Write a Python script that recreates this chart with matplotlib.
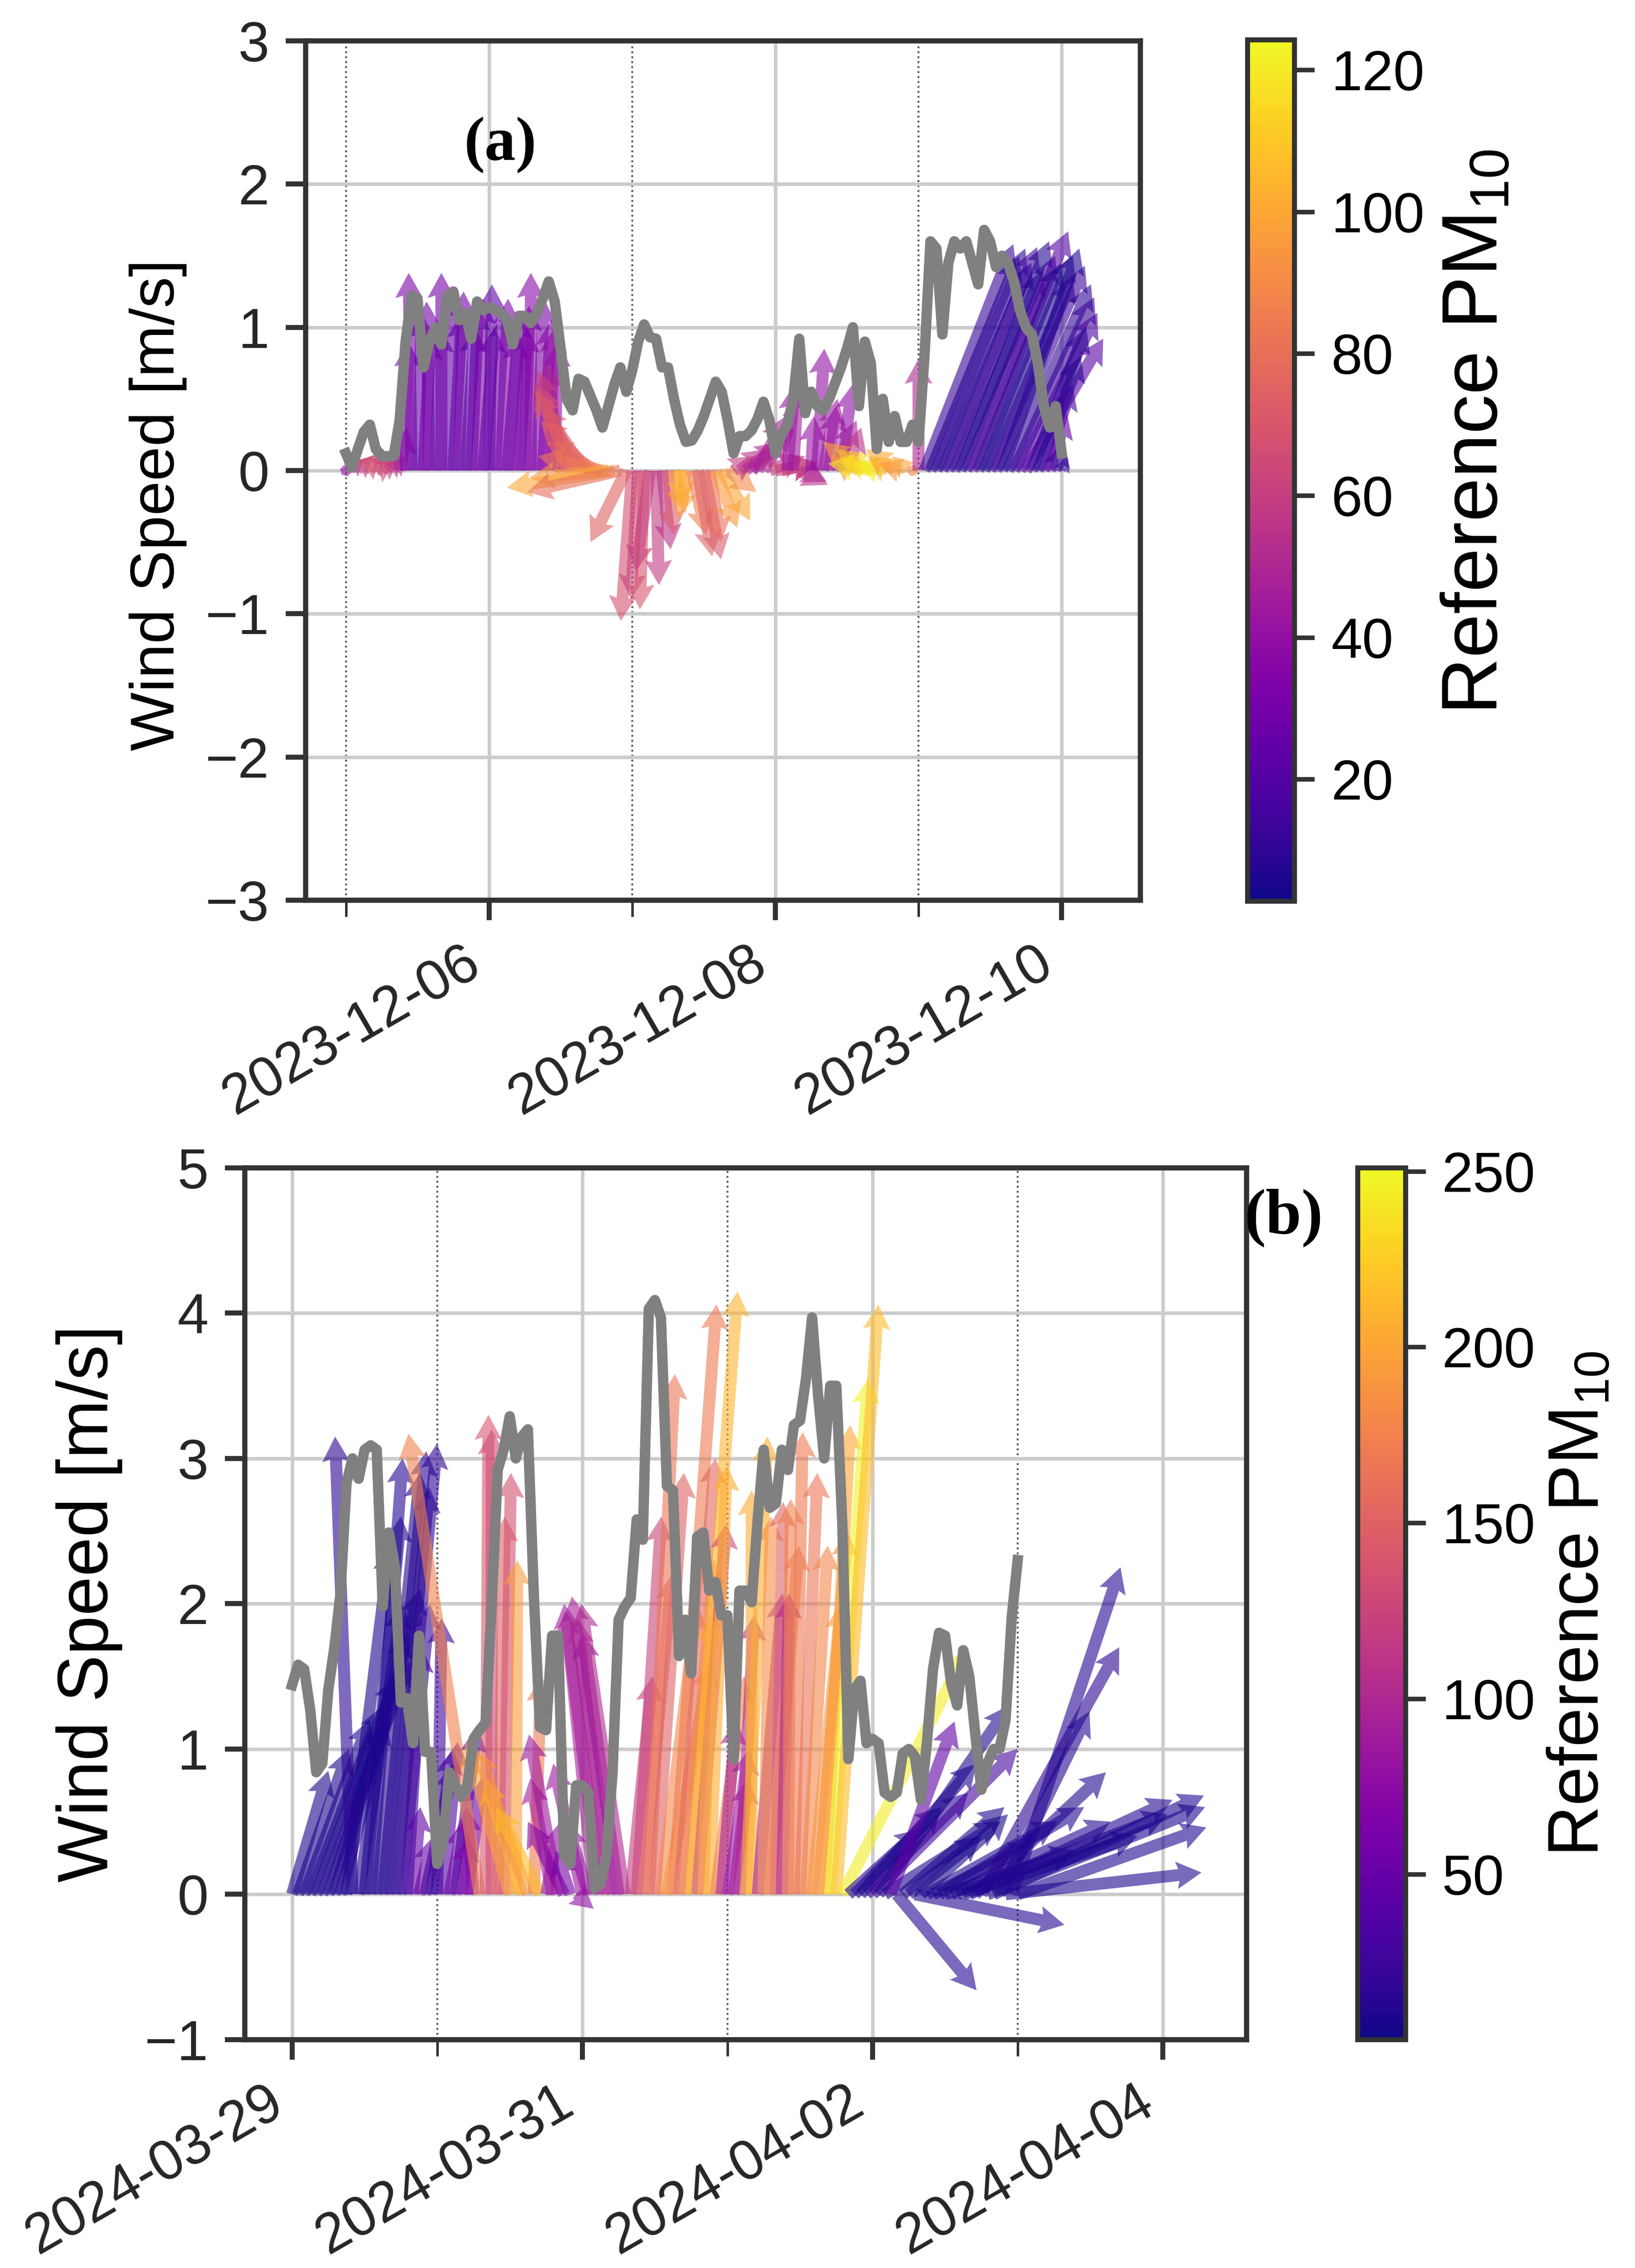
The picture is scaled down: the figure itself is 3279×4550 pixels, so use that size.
import numpy as np
import pandas as pd
import matplotlib
matplotlib.use("Agg")
import matplotlib.pyplot as plt
import matplotlib.dates as mdates
from matplotlib.colors import Normalize
from matplotlib.cm import ScalarMappable

plt.rcParams["font.family"] = ["Liberation Sans", "DejaVu Sans"]
plt.rcParams["mathtext.default"] = "regular"
plt.rcParams["text.color"] = "#262626"

# ---- panel (a): 2023-12-05 00:00, hourly ----
start_a = "2023-12-05 00:00"
speed_a = [0.12, 0.02, 0.15, 0.27, 0.32, 0.15, 0.10, 0.10, 0.10, 0.35,
           0.90, 1.22, 1.20, 0.72, 0.90, 1.00, 0.88, 1.22, 1.25, 1.05,
           1.10, 0.92, 1.18, 1.12, 1.14, 1.12, 1.10, 1.05, 0.88, 1.08,
           1.08, 1.03, 1.10, 1.20, 1.32, 1.18, 0.85, 0.50, 0.42, 0.64,
           0.62, 0.52, 0.42, 0.30, 0.45, 0.60, 0.72, 0.55, 0.70, 0.90,
           1.02, 0.93, 0.92, 0.72, 0.72, 0.50, 0.32, 0.20, 0.21, 0.28,
           0.38, 0.50, 0.62, 0.55, 0.35, 0.12, 0.24, 0.24, 0.28, 0.36,
           0.48, 0.35, 0.12, 0.25, 0.32, 0.50, 0.92, 0.40, 0.55, 0.45,
           0.42, 0.50, 0.61, 0.72, 0.85, 1.00, 0.45, 0.90, 0.75, 0.15,
           0.50, 0.20, 0.38, 0.20, 0.20, 0.32, 0.20, 0.80, 1.60, 1.55,
           0.95, 1.45, 1.60, 1.55, 1.60, 1.45, 1.30, 1.68, 1.60, 1.42,
           1.50, 1.45, 1.32, 1.12, 1.00, 0.95, 0.75, 0.45, 0.30, 0.45,
           0.12]
u_a = [0.05, 0.08, 0.10, 0.12, 0.10, 0.15, 0.12, 0.10, 0.08, 0.05,
       0.02, -0.02, 0.03, 0.05, -0.02, 0.04, 0.00, 0.05, 0.06, 0.03,
       0.07, 0.05, 0.04, 0.08, 0.02, 0.06, 0.05, 0.08, 0.04, 0.06,
       0.03, 0.00, 0.05, 0.06, 0.04, 0.02, -0.10, -0.20, -0.25, -0.30,
       -0.30, -0.35, -0.35, -0.45, -0.55, -0.75, -0.65, -0.25, -0.08, -0.05,
       -0.03, -0.10, 0.02, 0.06, 0.04, 0.08, 0.02, -0.05, 0.10, 0.10,
       0.12, 0.08, 0.15, 0.20, 0.20, 0.15, 0.20, 0.25, 0.30, 0.20,
       0.15, 0.25, 0.30, 0.25, 0.05, 0.03, 0.20, 0.15, 0.02, 0.05,
       0.10, 0.05, 0.15, 0.08, 0.10, -0.15, -0.25, -0.20, -0.30, -0.25,
       -0.20, -0.15, -0.20, -0.15, -0.10, -0.05, 0.00, 0.62, 0.62, 0.62,
       0.62, 0.62, 0.62, 0.62, 0.62, 0.67, 0.58, 0.62, 0.58, 0.62,
       0.54, 0.58, 0.56, 0.54, 0.54, 0.38, 0.30, 0.20, 0.12, 0.06,
       0.04]
v_a = [0.05, 0.08, 0.10, 0.12, 0.15, 0.08, 0.10, 0.12, 0.10, 0.30,
       0.90, 1.38, 1.10, 0.95, 1.18, 1.00, 1.38, 1.20, 1.10, 1.25,
       1.00, 1.15, 1.20, 1.00, 1.30, 1.10, 1.20, 0.95, 1.10, 1.00,
       1.15, 1.38, 1.20, 1.05, 1.00, 0.90, 0.75, 0.70, 0.60, 0.55,
       0.45, 0.35, 0.20, 0.10, -0.05, -0.12, -0.15, -0.50, -1.05, -0.90,
       -0.97, -0.70, -0.80, -0.55, -0.45, -0.30, -0.25, -0.33, -0.45, -0.60,
       -0.62, -0.50, -0.40, -0.35, -0.15, 0.10, 0.15, 0.20, 0.30, 0.38,
       0.25, 0.10, 0.05, 0.05, 0.60, 0.55, -0.10, -0.08, 0.38, 0.85,
       0.50, 0.45, 0.35, 0.60, 0.30, 0.10, 0.20, 0.15, 0.05, 0.08,
       0.05, 0.10, 0.15, 0.05, 0.10, 0.05, 0.78, 1.58, 1.50, 1.55,
       1.45, 1.56, 1.40, 1.60, 1.50, 1.67, 1.45, 1.50, 1.35, 1.43,
       1.55, 1.30, 1.21, 1.10, 0.92, 1.00, 0.80, 0.60, 0.40, 0.20,
       0.10]
pm_a = [40, 50, 60, 65, 68, 66, 62, 60, 55, 45,
        30, 32, 25, 28, 30, 22, 30, 26, 24, 28,
        22, 25, 30, 27, 24, 26, 32, 28, 30, 34,
        28, 36, 32, 35, 38, 40, 50, 62, 68, 72,
        70, 75, 80, 85, 95, 100, 80, 75, 68, 62,
        70, 60, 58, 55, 72, 95, 105, 100, 85, 75,
        72, 80, 95, 100, 90, 60, 55, 50, 45, 48,
        52, 58, 62, 60, 42, 45, 55, 50, 42, 40,
        45, 40, 48, 38, 55, 90, 100, 110, 120, 115,
        122, 105, 100, 95, 98, 90, 50, 12, 8, 10,
        6, 15, 9, 7, 11, 20, 8, 6, 10, 14,
        7, 9, 12, 18, 22, 10, 8, 15, 25, 12,
        10]
ticks_a = ["2023-12-06", "2023-12-08", "2023-12-10"]
minor_a = ["2023-12-05", "2023-12-07", "2023-12-09"]
cticks_a = [20, 40, 60, 80, 100, 120]

# ---- panel (b): 2024-03-29 00:00, hourly ----
start_b = "2024-03-29 00:00"
speed_b = [1.44, 1.58, 1.55, 1.27, 0.84, 0.90, 1.41, 1.70, 2.07, 2.83,
           3.00, 2.86, 3.06, 3.09, 3.06, 1.98, 2.49, 2.26, 1.32, 1.35,
           1.04, 1.78, 0.98, 0.98, 0.21, 0.36, 0.84, 0.75, 0.67, 0.75,
           1.07, 1.13, 1.18, 1.98, 2.92, 3.06, 3.29, 3.00, 3.15, 3.20,
           2.04, 1.15, 1.13, 1.78, 1.78, 0.27, 0.21, 0.75, 0.75, 0.70,
           0.04, 0.07, 0.27, 0.84, 1.89, 1.98, 2.04, 2.58, 2.44, 4.03,
           4.09, 3.97, 2.81, 2.78, 1.64, 1.89, 1.52, 2.46, 2.49, 2.09,
           2.15, 1.92, 1.92, 0.93, 2.09, 2.09, 2.01, 2.58, 3.06, 2.66,
           2.69, 3.06, 2.92, 3.23, 3.26, 3.55, 3.97, 3.43, 3.00, 3.50,
           3.50, 2.55, 0.93, 1.41, 1.47, 1.04, 1.07, 1.04, 0.70, 0.67,
           0.70, 0.97, 1.00, 0.95, 0.65, 1.05, 1.55, 1.80, 1.78, 1.45,
           1.30, 1.68, 1.50, 1.10, 0.72, 0.90, 1.00, 1.00, 1.20, 1.90,
           2.30]
u_b = [0.25, 0.35, 0.45, 0.50, 0.55, 0.60, 0.40, 0.50, 0.55, 0.30,
       -0.12, 0.30, 0.25, 0.22, 0.30, 0.30, 0.28, 0.29, 0.20, 0.10,
       0.05, 0.10, 0.20, 0.15, 0.03, 0.10, 0.10, 0.15, 0.05, 0.10,
       -0.05, -0.49, 0.02, 0.00, 0.05, 0.05, -0.30, 0.01, -0.25, -0.35,
       0.05, -0.30, 0.10, -0.15, -0.20, -0.25, -0.10, 0.12, -0.20, -0.15,
       -0.20, -0.25, -0.20, -0.28, -0.25, -0.30, 0.15, 0.17, 0.20, 0.18,
       0.20, 0.25, 0.30, 0.30, 0.25, 0.20, 0.32, 0.20, 0.05, 0.12,
       0.20, 0.10, 0.15, 0.10, 0.10, 0.15, 0.00, 0.17, 0.05, 0.20,
       0.05, 0.05, 0.02, 0.06, 0.12, 0.15, 0.20, 0.20, 0.18, 0.26,
       0.29, 0.87, 0.50, 0.60, 0.80, 0.70, 1.00, 0.90, 0.80, 0.44,
       0.55, 0.70, 0.50, 1.03, 0.60, 0.90, 0.70, 1.00, 0.90, 1.10,
       1.45, 1.20, 1.40, 0.90, 0.95, 1.50, 1.45, 0.62, 1.35, 0.75,
       1.30]
v_b = [0.85, 1.00, 1.20, 1.30, 1.50, 1.60, 1.20, 1.80, 2.10, 2.40,
       3.15, 2.00, 2.60, 3.00, 2.90, 3.05, 2.80, 3.10, 2.00, 1.70,
       0.60, 0.40, 0.90, 1.00, 1.90, 1.05, 0.50, 1.15, 0.40, 0.80,
       0.60, 3.17, 3.30, 3.20, 2.60, 2.90, 1.05, 2.30, 0.80, 1.00,
       1.50, 0.60, 0.50, 0.80, 1.10, 0.50, 0.30, -0.10, 0.90, 0.50,
       1.95, 2.00, 1.90, 2.05, 1.80, 2.00, 1.50, 2.60, 2.20, 3.58,
       2.90, 2.00, 1.60, 4.06, 3.00, 2.30, 4.15, 2.55, 1.92, 2.95,
       1.50, 1.20, 1.00, 0.80, 1.92, 3.15, 2.78, 2.07, 2.60, 2.40,
       2.70, 2.07, 2.72, 3.18, 2.90, 2.40, 2.00, 2.50, 3.23, 3.55,
       4.06, 1.70, 0.45, 0.60, 0.90, 0.70, 1.00, 1.30, 0.50, 1.19,
       -0.66, 0.60, 0.40, -0.21, 0.55, 0.50, 0.35, 0.60, 0.30, 0.50,
       0.55, 0.40, 0.65, 0.84, 1.70, 0.60, 0.68, 1.26, 0.15, 2.25,
       0.46]
pm_b = [8, 8, 10, 6, 8, 12, 10, 8, 10, 7,
        15, 9, 8, 12, 10, 14, 11, 16, 20, 28,
        45, 50, 30, 25, 25, 35, 60, 30, 65, 55,
        70, 175, 140, 130, 150, 135, 200, 195, 210, 190,
        170, 215, 80, 90, 85, 70, 60, 75, 85, 80,
        95, 90, 100, 95, 85, 100, 120, 125, 150, 165,
        150, 180, 190, 170, 155, 185, 210, 130, 200, 205,
        175, 95, 85, 90, 100, 205, 205, 95, 185, 170,
        150, 100, 175, 170, 165, 180, 190, 185, 200, 248,
        215, 245, 12, 10, 8, 14, 30, 10, 8, 45,
        12, 8, 10, 12, 6, 9, 7, 10, 8, 11,
        9, 7, 12, 10, 14, 8, 9, 11, 10, 13,
        9]
ticks_b = ["2024-03-29", "2024-03-31", "2024-04-02", "2024-04-04"]
minor_b = ["2024-03-30", "2024-04-01", "2024-04-03"]
cticks_b = [50, 100, 150, 200, 250]

fig = plt.figure(figsize=(3279 / 300, 4550 / 300), dpi=300)


def panel(ax, cax, start, speed, u, v, pm, vmin, vmax, ylim, majors, minors,
          cticks, xpad, ylab_size, ylab_xy, cb_size, cb_xy):
    t = mdates.date2num(pd.date_range(start, periods=len(speed), freq="h"))
    norm = Normalize(vmin=vmin, vmax=vmax)
    ax.quiver(t, np.zeros(len(t)), u, v, pm, cmap="plasma", norm=norm,
              angles="xy", scale_units="xy", scale=1, units="dots",
              width=24, headwidth=2.3, headlength=2.1, headaxislength=1.9,
              alpha=0.6, zorder=2)
    ax.plot(t, speed, color="gray", lw=5, zorder=3)

    t0 = mdates.date2num(pd.Timestamp(start))
    ax.set_xlim(t0 + xpad[0], t0 + xpad[1])
    ax.set_ylim(*ylim)
    ax.set_yticks(range(ylim[0], ylim[1] + 1))
    ax.set_xticks(mdates.date2num(pd.to_datetime(majors)))
    ax.set_xticks(mdates.date2num(pd.to_datetime(minors)), minor=True)
    ax.xaxis.set_major_formatter(mdates.DateFormatter("%Y-%m-%d"))
    plt.setp(ax.get_xticklabels(), rotation=30, ha="right")

    ax.set_axisbelow(True)
    ax.grid(True, which="major", color="#cccccc", lw=1.7)
    ax.xaxis.grid(True, which="minor", color="#555555", ls=":", lw=0.9)
    ax.tick_params(which="major", length=9.5, width=2.4, color="#333333",
                   labelsize=27, pad=8, labelcolor="#262626")
    ax.tick_params(which="minor", length=8, width=1.2, color="#333333")
    for s in ax.spines.values():
        s.set_linewidth(2.5)
        s.set_color("#333333")
    ax.set_ylabel("Wind Speed [m/s]", fontsize=ylab_size)
    ax.yaxis.set_label_coords(*ylab_xy)

    cb = fig.colorbar(ScalarMappable(norm=norm, cmap="plasma"), cax=cax)
    cb.set_ticks(cticks)
    cb.outline.set_linewidth(2.4)
    cb.outline.set_edgecolor("#333333")
    cb.ax.tick_params(length=9.5, width=2.2, color="#333333",
                      labelsize=27, pad=8)
    cb.set_label("Reference PM$_{10}$", fontsize=cb_size)
    cb.ax.yaxis.set_label_coords(*cb_xy)


ax_a = fig.add_axes([0.1869, 0.6031, 0.5106, 0.3789])
cax_a = fig.add_axes([0.7630, 0.6026, 0.0287, 0.3798])
panel(ax_a, cax_a, start_a, speed_a, u_a, v_a, pm_a, 2.8, 124.2, (-3, 3),
      ticks_a, minor_a, cticks_a, (-0.282, 5.55), 30, (-0.142, 0.46),
      38, (4.1, 0.545))

ax_b = fig.add_axes([0.1497, 0.1007, 0.6127, 0.3844])
cax_b = fig.add_axes([0.8304, 0.1007, 0.0293, 0.3844])
panel(ax_b, cax_b, start_b, speed_b, u_b, v_b, pm_b, 3.0, 251.0, (-1, 5),
      ticks_b, minor_b, cticks_b, (-0.326, 6.577), 34, (-0.122, 0.5),
      34, (3.95, 0.5))

fig.text(0.306, 0.936, "(a)", family="Liberation Serif", weight="bold",
         fontsize=30, ha="center", va="center", color="black")
fig.text(0.785, 0.463, "(b)", family="Liberation Serif", weight="bold",
         fontsize=31, ha="center", va="center", color="black")

fig.savefig("out.png", dpi=300)
